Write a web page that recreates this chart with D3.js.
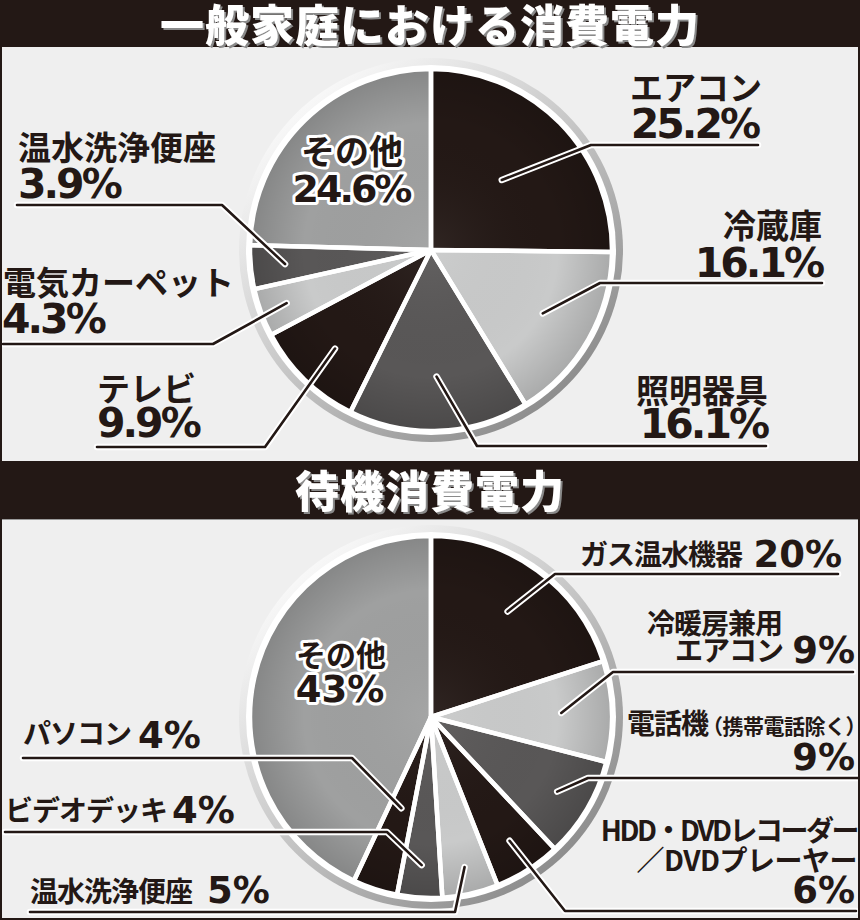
<!DOCTYPE html>
<html><head><meta charset="utf-8">
<script src="https://cdn.jsdelivr.net/npm/d3@7"></script>
<style>html,body{margin:0;padding:0;background:#fff}</style>
</head><body>
<svg id="c" width="860" height="920"></svg>
<script>
// ---------- data ----------
const titles = ["一般家庭における消費電力", "待機消費電力"];
const cats1 = ["エアコン", "冷蔵庫", "照明器具", "テレビ", "電気カーペット", "温水洗浄便座", "その他"];
const vals1 = [25.2, 16.1, 16.1, 9.9, 4.3, 3.9, 24.6];
const shades1 = ["black", "light", "dark", "black", "light", "dark", "mid"];
const cats2 = ["ガス温水機器", "冷暖房兼用\nエアコン", "電話機（携帯電話除く）", "HDD・DVDレコーダー\n／DVDプレーヤー", "温水洗浄便座", "ビデオデッキ", "パソコン", "その他"];
const vals2 = [20, 9, 9, 6, 5, 4, 4, 43];
const shades2 = ["black", "light", "dark", "black", "light", "dark", "black", "mid"];

// ---------- layout (positions only) ----------
const layout1 = [
  {anchor:"end", lines:[[762,100]], pct:[758,138,"end"], frac:.55, elbow:[591,145], end:[758,145]},
  {anchor:"end", lines:[[822,238]], pct:[822,277,"end"], frac:.71, elbow:[600,283], end:[822,283]},
  {anchor:"end", lines:[[768,403]], pct:[767,438,"end"], frac:.70, elbow:[477,446], end:[766,446]},
  {anchor:"start", lines:[[97,401]], pct:[97,437,"start"], frac:.76, elbow:[265,447], end:[97,447]},
  {anchor:"start", lines:[[3,295]], pct:[2,333,"start"], frac:.85, elbow:[213,344], end:[3,344]},
  {anchor:"start", lines:[[18,160]], pct:[18,198,"start"], frac:.81, elbow:[222,205], end:[17,205]},
  {anchor:"middle", inside:true, lines:[[352,164]], pct:[351,202,"middle"]}
];
const layout2 = [
  {anchor:"end", lines:[[742,565]], pct:[842,567,"end"], frac:.72, elbow:[555,574], end:[838,574]},
  {anchor:"end", lines:[[782,634],[783,661]], pct:[855,663,"end"], frac:.72, elbow:[613,672], end:[853,672]},
  {anchor:"start", lines:[[627,734]], pct:[855,770,"end"], frac:.81, elbow:[588,778], end:[860,778]},
  {anchor:"end", lines:[[857,841],[857,871]], pct:[855,903,"end"], frac:.81, elbow:[565,911], end:[856,911], spacing:[-2.5,-0.5]},
  {anchor:"start", lines:[[30,902]], pct:[207,903,"start"], frac:.85, elbow:[455,912], end:[30,912]},
  {anchor:"start", lines:[[5,821]], pct:[172,823,"start"], frac:.82, elbow:[387,832], end:[5,832]},
  {anchor:"start", lines:[[23,744]], pct:[138,748,"start"], frac:.53, elbow:[352,758], end:[23,758]},
  {anchor:"middle", inside:true, lines:[[341,666]], pct:[340,702,"middle"]}
];

const INK = "#231815";
const colors = {black:"#231815", light:"#c9caca", dark:"#595757", mid:"#9fa0a0"};
const JP = "'Noto Sans CJK JP','Noto Sans',sans-serif";
const NUM = "'DejaVu Sans',sans-serif";

const svg = d3.select("#c");
const defs = svg.append("defs");

const bevel = defs.append("linearGradient").attr("id","bevel")
  .attr("x1","15%").attr("y1","10%").attr("x2","85%").attr("y2","90%");
bevel.append("stop").attr("offset","0%").attr("stop-color","#fbfbfb");
bevel.append("stop").attr("offset","55%").attr("stop-color","#c0c0c0");
bevel.append("stop").attr("offset","100%").attr("stop-color","#8a8a8a");

const R = 181;
const shade = defs.append("radialGradient").attr("id","shade")
  .attr("gradientUnits","userSpaceOnUse").attr("cx",0).attr("cy",0).attr("r",R);
shade.append("stop").attr("offset","0%").attr("stop-color","#fff").attr("stop-opacity",0.06);
shade.append("stop").attr("offset","70%").attr("stop-color","#000").attr("stop-opacity",0.0);
shade.append("stop").attr("offset","100%").attr("stop-color","#000").attr("stop-opacity",0.16);

const ds = defs.append("filter").attr("id","tshadow").attr("x","-5%").attr("y","-20%").attr("width","110%").attr("height","140%");
ds.append("feDropShadow").attr("dx",2).attr("dy",2).attr("stdDeviation",0.3)
  .attr("flood-color","#8a8a8a").attr("flood-opacity",1);

// background
svg.append("rect").attr("width",860).attr("height",920).attr("fill","#efefef");

function titleBar(text, y, h, baseline) {
  svg.append("rect").attr("x",0).attr("y",y).attr("width",860).attr("height",h).attr("fill",INK);
  svg.append("text").attr("x",430).attr("y",baseline).attr("text-anchor","middle")
    .attr("font-family",JP).attr("font-weight",900).attr("font-size",44)
    .attr("letter-spacing",1).attr("filter","url(#tshadow)")
    .attr("fill","#ffffff").text(text);
}
titleBar(titles[0], 0, 47, 42);
titleBar(titles[1], 461, 58, 508);
svg.append("line").attr("x1",0).attr("x2",860).attr("y1",519.5).attr("y2",519.5)
  .attr("stroke","#9a9a9a").attr("stroke-width",1);

function drawPie(cx, cy, cats, vals, shades, layout, fmt, jpSize, jpSpacing, numSize, numSpacing, insideJp, insideNum) {
  const g = svg.append("g").attr("transform",`translate(${cx},${cy})`);
  const pie = d3.pie().sort(null).value(d => d)(vals);
  const arc = d3.arc().innerRadius(0).outerRadius(R);

  g.append("circle").attr("r",R+11).attr("fill","url(#bevel)");
  g.append("circle").attr("r",R+4).attr("fill","#ffffff");

  g.selectAll("path.slice").data(pie).join("path").attr("class","slice")
    .attr("d",arc).attr("fill",(d,i)=>colors[shades[i]]);
  g.selectAll("path.sh").data(pie).join("path").attr("class","sh")
    .attr("d",arc).attr("fill","url(#shade)");
  g.selectAll("path.sep").data(pie).join("path").attr("class","sep")
    .attr("d",arc).attr("fill","none").attr("stroke","#fff").attr("stroke-width",4.5)
    .attr("stroke-linejoin","round");

  // leaders
  pie.forEach((d,i) => {
    const L = layout[i];
    if (L.inside) return;
    const rr = R * L.frac;
    const p = d3.arc().innerRadius(rr).outerRadius(rr).centroid(d);
    const pts = [[cx+p[0], cy+p[1]], L.elbow, L.end];
    const line = d3.line();
    svg.append("path").attr("d",line(pts)).attr("fill","none").attr("stroke","#fff")
      .attr("stroke-width",6.5).attr("stroke-linecap","round").attr("stroke-linejoin","round");
    svg.append("path").attr("d",line(pts)).attr("fill","none").attr("stroke",INK)
      .attr("stroke-width",2.6).attr("stroke-linecap","round").attr("stroke-linejoin","round");
  });

  // labels
  pie.forEach((d,i) => {
    const L = layout[i];
    const lines = cats[i].split("\n");
    lines.forEach((ln, k) => {
      const [x,y] = L.lines[k];
      const t = svg.append("text").attr("x",x).attr("y",y).attr("text-anchor",L.anchor)
        .attr("font-family",JP).attr("font-weight",700)
        .attr("font-size", L.inside ? insideJp : jpSize).attr("fill",INK)
        .attr("letter-spacing", L.spacing ? L.spacing[k] : (L.inside ? 0 : jpSpacing));
      if (L.inside) t.attr("stroke","#fff").attr("stroke-width",6).attr("paint-order","stroke").attr("stroke-linejoin","round");
      const m = ln.indexOf("（");
      if (m > 0) {
        t.append("tspan").text(ln.slice(0,m));
        t.append("tspan").attr("font-size",21).attr("letter-spacing",-0.5).attr("dx",-6).text(ln.slice(m));
      } else t.text(ln);
    });
    const [px,py,pa] = L.pct;
    const n = svg.append("text").attr("x",px).attr("y",py).attr("text-anchor",pa)
      .attr("font-family",NUM).attr("font-weight",700)
      .attr("font-size", L.inside ? insideNum : numSize)
      .attr("letter-spacing", numSpacing).attr("fill",INK)
      .text(fmt(vals[i]) + "%");
    if (L.inside) n.attr("stroke","#fff").attr("stroke-width",6).attr("paint-order","stroke").attr("stroke-linejoin","round");
  });
}

drawPie(431, 250, cats1, vals1, shades1, layout1, d3.format(".1f"), 33, 0, 41, -3, 34, 38);
drawPie(431, 717, cats2, vals2, shades2, layout2, d3.format("d"), 28, -1, 37, 0, 30, 37);

svg.append("rect").attr("x",1).attr("y",1).attr("width",858).attr("height",918)
  .attr("fill","none").attr("stroke",INK).attr("stroke-width",2);
</script>
</body></html>
